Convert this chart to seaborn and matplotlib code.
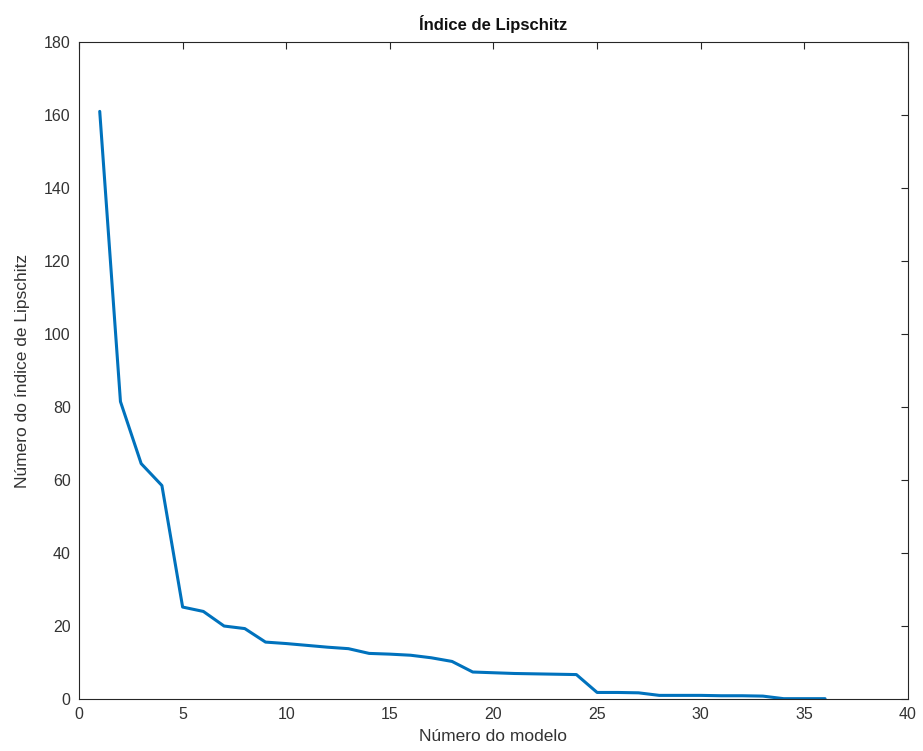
import numpy as np
import matplotlib.pyplot as plt
import seaborn as sns
import pandas as pd

# model number vs Lipschitz index
modelos = list(range(1, 37))
indice = [161, 81.5, 64.5, 58.5, 25.2, 24.0, 20.0, 19.3, 15.6, 15.2,
          14.7, 14.2, 13.8, 12.5, 12.3, 12.0, 11.3, 10.3, 7.4, 7.2,
          7.0, 6.9, 6.8, 6.7, 1.8, 1.8, 1.7, 1.0, 1.0, 1.0,
          0.9, 0.9, 0.8, 0.1, 0.1, 0.1]

df = pd.DataFrame({"modelo": modelos, "indice": indice})

sns.set_theme(style="white")
plt.rcParams["font.family"] = ["Liberation Sans", "DejaVu Sans"]

fig = plt.figure(figsize=(9.23, 7.51), dpi=100)
ax = fig.add_axes([0.0856, 0.0692, 0.8981, 0.8748])

sns.lineplot(data=df, x="modelo", y="indice", color="#0072BD", linewidth=2.2, ax=ax)

ax.set_xlim(0, 40)
ax.set_ylim(0, 180)
ax.set_xticks(np.arange(0, 41, 5))
ax.set_yticks(np.arange(0, 181, 20))
ax.tick_params(direction="in", top=True, right=True, length=5, width=0.8,
               colors="#262626", labelsize=11.5, labelcolor="#333333", pad=6)
for s in ax.spines.values():
    s.set_color("#262626")
    s.set_linewidth(0.8)

ax.set_title("Índice de Lipschitz", fontsize=12, fontweight="bold", color="#111111", pad=9)
ax.set_xlabel("Número do modelo", fontsize=12.5, color="#333333", labelpad=5)
ax.set_ylabel("Número do índice de Lipschitz", fontsize=12.5, color="#333333", labelpad=10)

fig.savefig("out.png", dpi=100)
